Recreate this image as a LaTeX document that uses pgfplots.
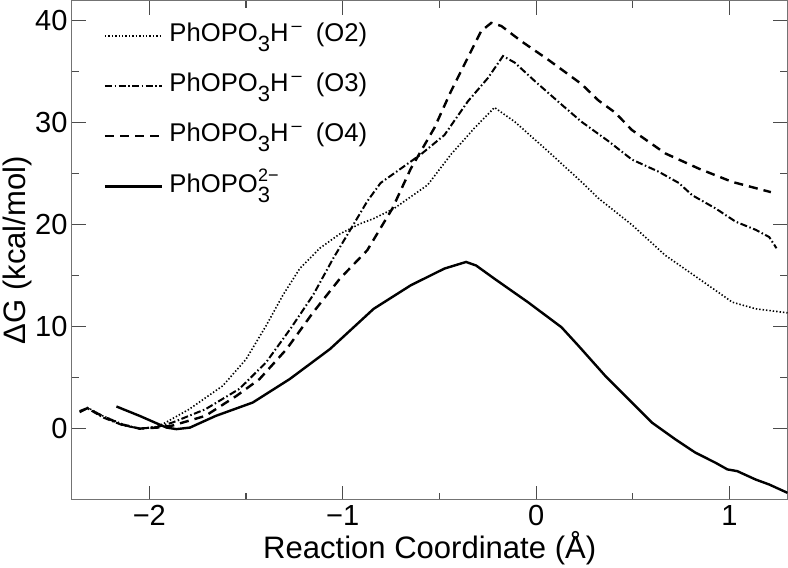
\documentclass[border=0pt]{standalone}
\usepackage{pgfplots}
\pgfplotsset{compat=1.18}
\usepackage{fontspec}
\setmainfont{Liberation Sans}
\newcommand{\lsub}[1]{\raisebox{-10bp}{\fontsize{22}{22}\selectfont #1}}
\newcommand{\lsup}[1]{\raisebox{10bp}{\fontsize{18}{18}\selectfont #1}}
\begin{document}
\begin{tikzpicture}
\begin{axis}[
  scale only axis,
  width=712bp, height=497bp,
  xmin=-2.4, xmax=1.3, ymin=-7, ymax=42,
  xtick={-2,-1,0,1}, xticklabels={−2,−1,0,1},
  ytick={0,10,20,30,40}, yticklabels={0,10,20,30,40},
  minor tick num=1,
  tick align=inside,
  major tick length=14bp, minor tick length=7bp,
  axis line style={black!55, line width=1bp},
  every tick/.style={black!70, line width=1bp},
  ticklabel style={font=\fontsize{29}{32}\selectfont},
  xticklabel style={yshift=-2bp},
  yticklabel style={xshift=-1bp},
  label style={font=\fontsize{31}{34}\selectfont},
  xlabel={Reaction Coordinate (Å)},
  ylabel={ΔG (kcal/mol)},
  xlabel style={yshift=2bp},
  ylabel style={yshift=-4bp},
  legend cell align=left,
  legend style={at={(0.04,0.965)}, anchor=north west, draw=none, fill=none,
    font=\fontsize{25.6}{30}\selectfont, row sep=19bp,
    nodes={inner sep=2bp, text height=19bp, text depth=8bp},
    /tikz/every odd column/.append style={column sep=4bp}},
  legend image code/.code={\draw[#1] (0bp,0bp) -- (57bp,0bp);},
]
\addplot[black, line width=1.6bp, dash pattern=on 1.4bp off 2bp] coordinates {
(-2.353,1.74) (-2.32,2.07) (-2.24,1.25) (-2.14,0.45) (-2.05,0.0) (-1.96,0.2)
(-1.915,0.6) (-1.794,1.9) (-1.62,4.2) (-1.5,6.8) (-1.396,10.1) (-1.309,13.1)
(-1.222,15.7) (-1.118,17.7) (-1.015,19.1) (-0.91,20.1) (-0.84,20.6) (-0.734,21.6)
(-0.561,23.9) (-0.44,26.9) (-0.318,29.5) (-0.215,31.5) (-0.11,30.1) (0.062,27.2)
(0.235,24.2) (0.322,22.6) (0.495,20.0) (0.668,17.0) (0.842,14.7) (1.015,12.4)
(1.136,11.75) (1.30,11.36)
};
\addlegendentry{PhOPO\lsub{3}H\lsup{\,–}\ \ (O2)}
\addplot[black, line width=2bp, dash pattern=on 7bp off 2.5bp on 1.5bp off 2.5bp] coordinates {
(-2.36,1.6) (-2.32,2.0) (-2.24,1.1) (-2.14,0.35) (-2.05,0.0) (-1.96,0.15)
(-1.88,0.6) (-1.71,1.9) (-1.534,3.9) (-1.396,6.5) (-1.27,9.8) (-1.153,13.1)
(-1.049,16.7) (-0.945,20.0) (-0.873,22.3) (-0.804,24.1) (-0.70,25.5) (-0.596,26.9)
(-0.474,28.8) (-0.353,32.1) (-0.249,34.4) (-0.171,36.55) (-0.11,35.9) (-0.007,34.1)
(0.131,31.8) (0.235,30.1) (0.374,28.2) (0.495,26.4) (0.634,25.2) (0.738,24.1)
(0.807,22.9) (0.928,21.6) (1.032,20.3) (1.136,19.5) (1.205,18.8) (1.243,17.7)
};
\addlegendentry{PhOPO\lsub{3}H\lsup{\,–}\ \ (O3)}
\addplot[black, line width=2.4bp, dash pattern=on 9bp off 6bp] coordinates {
(-2.36,1.7) (-2.32,2.0) (-2.24,1.2) (-2.14,0.4) (-2.05,0.0) (-1.96,0.1)
(-1.88,0.3) (-1.71,1.25) (-1.55,3.2) (-1.43,4.86) (-1.29,7.8) (-1.153,11.4)
(-1.015,14.7) (-0.873,17.5) (-0.743,21.6) (-0.648,25.5) (-0.526,29.5) (-0.44,33.1)
(-0.353,36.4) (-0.284,39.0) (-0.232,39.8) (-0.18,39.5) (-0.076,38.0) (0.062,36.2)
(0.235,33.8) (0.322,32.2) (0.409,31.0) (0.495,29.3) (0.668,27.0) (0.842,25.5)
(1.015,24.2) (1.214,23.2)
};
\addlegendentry{PhOPO\lsub{3}H\lsup{\,–}\ \ (O4)}
\addplot[black, line width=2.4bp] coordinates {
(-2.17,2.17) (-2.05,1.25) (-1.95,0.42) (-1.91,0.1) (-1.86,-0.05) (-1.79,0.1)
(-1.656,1.25) (-1.465,2.56) (-1.274,4.86) (-1.066,7.8) (-0.84,11.75) (-0.648,14.06)
(-0.474,15.7) (-0.362,16.35) (-0.31,16.0) (-0.215,14.7) (-0.042,12.4) (0.131,9.95)
(0.218,8.15) (0.357,5.19) (0.495,2.56) (0.599,0.59) (0.72,-1.05) (0.824,-2.36)
(0.928,-3.35) (0.989,-4.0) (1.04,-4.17) (1.136,-5.0) (1.205,-5.48) (1.30,-6.3)
};
\addlegendentry{PhOPO\lsub{3}\hspace{-12bp}\lsup{2−}}
\end{axis}
\end{tikzpicture}
\end{document}
